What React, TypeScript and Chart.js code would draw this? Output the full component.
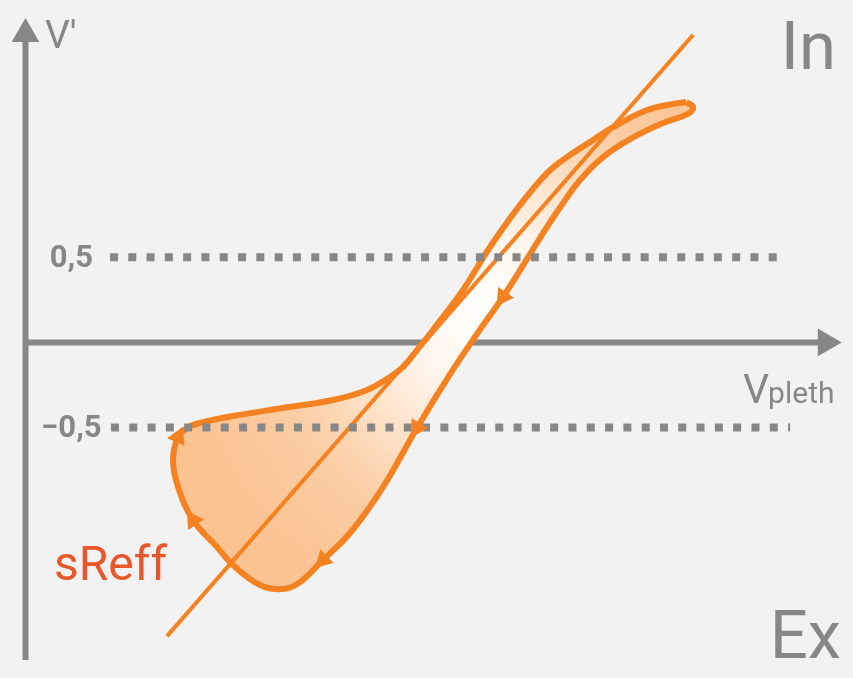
import React, { useEffect, useRef } from "react";
import { Chart, registerables } from "chart.js";

Chart.register(...registerables);

// ---- data (chart units) ----
const loopX = [3.888, 3.929, 3.899, 3.752, 3.570, 3.399, 3.264, 3.152, 3.046, 2.952, 2.810, 2.657, 2.499, 2.304, 2.104, 1.910, 1.751, 1.616, 1.516, 1.380, 1.221, 1.127, 0.986, 0.898, 0.868, 0.898, 0.951, 1.027, 1.221, 1.516, 1.810, 2.010, 2.145, 2.222, 2.304, 2.398, 2.575, 2.734, 2.911, 3.069, 3.187, 3.340, 3.458, 3.658, 3.805, 3.888];
const loopY = [1.411, 1.382, 1.341, 1.288, 1.200, 1.088, 0.953, 0.801, 0.642, 0.490, 0.267, 0.049, -0.186, -0.502, -0.849, -1.119, -1.277, -1.407, -1.448, -1.424, -1.307, -1.201, -1.043, -0.849, -0.690, -0.555, -0.502, -0.473, -0.432, -0.385, -0.338, -0.279, -0.203, -0.144, -0.045, 0.073, 0.308, 0.560, 0.807, 0.994, 1.088, 1.188, 1.264, 1.364, 1.399, 1.411];
const arrowIdx = [10, 13, 16, 22, 25];
const diagX = [0.833, 3.929];
const diagY = [-1.724, 1.805];
const refLevels = [0.5, -0.5];
const refStartX = [0.497, 0.503];
const refEndX = [4.48, 4.5];
const tickLabels = ["0,5", "\u22120,5"];
const yAxisExtent = [-1.864, 1.81];
const xAxisExtent = [0, 4.71];

const GREY = "#878787";
const ORANGE = "#f58220";

export default function App() {
  const ref = useRef<HTMLCanvasElement | null>(null);
  useEffect(() => {
    document.body.style.margin = "0";
    document.body.style.background = "#f2f2f2";
    const canvas = ref.current!;
    const pts = (xs: number[], ys: number[]) => xs.map((x, i) => ({ x, y: ys[i] }));
    const loopPts = pts(loopX, loopY);
    const arrowPts = arrowIdx.map((i) => loopPts[i]);

    const labelsPlugin = {
      id: "labels",
      afterDraw(chart: any) {
        const c = chart.ctx;
        const ys = chart.scales.y;
        const xs = chart.scales.x;
        c.save();
        c.fillStyle = GREY;
        c.textBaseline = "middle";
        c.textAlign = "center";
        c.font = "bold 31px Roboto";
        refLevels.forEach((v, i) => {
          c.fillText(tickLabels[i], xs.getPixelForValue(0.27), ys.getPixelForValue(v) + 2);
        });
        c.textBaseline = "alphabetic";
        c.textAlign = "left";
        c.font = "39px Roboto";
        c.fillText("V\u2032", 45, 48);
        c.textAlign = "right";
        c.font = "67px Roboto";
        c.fillText("In", 836, 69);
        c.fillText("Ex", 841, 658);
        c.textAlign = "left";
        c.font = "41px Roboto";
        c.fillText("V", 743, 403);
        const vw = c.measureText("V").width;
        c.font = "30px Roboto";
        c.fillText("pleth", 743 + vw - 1, 403);
        c.fillStyle = "#e8572a";
        c.font = "48px Roboto";
        c.fillText("sReff", 54, 580);
        c.restore();
      },
    };

    const chart = new Chart(canvas, {
      type: "scatter",
      data: {
        datasets: [
          {
            data: arrowPts,
            showLine: false,
            pointStyle: "triangle",
            pointRadius: 11,
            backgroundColor: ORANGE,
            borderColor: ORANGE,
            borderWidth: 0,
            pointRotation: (ctx: any) => {
              const i = arrowIdx[ctx.dataIndex];
              if (i === undefined) return 0;
              const ch = ctx.chart;
              const sx = ch.scales.x, sy = ch.scales.y;
              const a = loopPts[i - 1], b = loopPts[i + 1];
              const dx = sx.getPixelForValue(b.x) - sx.getPixelForValue(a.x);
              const dy = sy.getPixelForValue(b.y) - sy.getPixelForValue(a.y);
              return (Math.atan2(dx, -dy) * 180) / Math.PI;
            },
          } as any,
          ...refLevels.map((v, i) => ({
            data: [
              { x: refStartX[i], y: v },
              { x: refEndX[i], y: v },
            ],
            showLine: true,
            borderColor: GREY,
            borderWidth: 8,
            borderDash: [8, 10.3],
            borderCapStyle: "butt",
            pointRadius: 0,
          })),
          {
            data: pts(diagX, diagY),
            showLine: true,
            borderColor: ORANGE,
            borderWidth: 4,
            pointRadius: 0,
          },
          {
            data: loopPts,
            showLine: true,
            borderColor: ORANGE,
            borderWidth: 6,
            borderJoinStyle: "round",
            tension: 0.4,
            pointRadius: 0,
            fill: "shape",
            backgroundColor: (ctx: any) => {
              const ch = ctx.chart;
              if (!ch.chartArea) return "#fcd0a8";
              const cx = ch.scales.x.getPixelForValue(2.75);
              const cy = ch.scales.y.getPixelForValue(0.15);
              const g = ch.ctx.createRadialGradient(cx, cy, 0, cx, cy, 320);
              g.addColorStop(0, "#ffffff");
              g.addColorStop(0.25, "#fff5ec");
              g.addColorStop(0.7, "#fbcca2");
              g.addColorStop(1, "#fbc292");
              return g;
            },
          } as any,
          {
            data: [
              { x: 0, y: yAxisExtent[1] },
              { x: xAxisExtent[1], y: 0 },
            ],
            showLine: false,
            pointStyle: "triangle",
            pointRadius: 16,
            pointRotation: [0, 90],
            backgroundColor: GREY,
            borderWidth: 0,
          } as any,
          {
            data: [
              { x: xAxisExtent[0], y: 0 },
              { x: xAxisExtent[1], y: 0 },
            ],
            showLine: true,
            borderColor: GREY,
            borderWidth: 6,
            pointRadius: 0,
          },
          {
            data: [
              { x: 0, y: yAxisExtent[0] },
              { x: 0, y: yAxisExtent[1] },
            ],
            showLine: true,
            borderColor: GREY,
            borderWidth: 6,
            pointRadius: 0,
          },
        ],
      },
      options: {
        animation: false,
        responsive: false,
        maintainAspectRatio: false,
        layout: { padding: 0, autoPadding: false },
        plugins: { legend: { display: false }, tooltip: { enabled: false } },
        elements: { line: { capBezierPoints: false } },
        scales: {
          x: { type: "linear", min: -0.15, max: 4.87, display: false },
          y: { type: "linear", min: -1.97, max: 2.01, display: false },
        },
      } as any,
      plugins: [labelsPlugin],
    });
    return () => chart.destroy();
  }, []);
  return (
    <div style={{ width: 853, height: 678, background: "#f2f2f2" }}>
      <canvas ref={ref} width={853} height={678} style={{ display: "block" }} />
    </div>
  );
}
